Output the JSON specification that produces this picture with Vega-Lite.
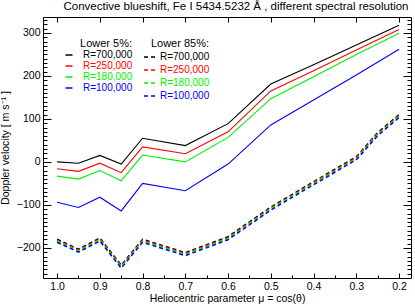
{
  "$schema": "https://vega.github.io/schema/vega-lite/v6.json",
  "width": 368,
  "height": 261,
  "autosize": "none",
  "padding": {"left": 43, "top": 17, "right": 4, "bottom": 28},
  "background": "white",
  "config": {
    "view": {"stroke": "black", "strokeWidth": 1},
    "font": "Liberation Sans",
    "axis": {"domain": false, "grid": false, "labelFont": "Liberation Sans", "titleFont": "Liberation Sans", "labelColor": "black", "titleColor": "black", "tickColor": "black", "labelFontSize": 10.5, "titleFontSize": 10.5, "titleFontWeight": "normal"},
    "legend": {"labelFont": "Liberation Sans", "titleFont": "Liberation Sans"}
  },
  "title": {"text": "Convective blueshift, Fe I 5434.5232 Å , different spectral resolution", "fontSize": 11.5, "fontWeight": "normal", "font": "Liberation Sans", "color": "black", "offset": 4, "dx": 9},
  "datasets": {
    "solid": [
      {"mu": 1.0, "v": 0, "R": "R=700,000"}, {"mu": 0.95, "v": -3, "R": "R=700,000"}, {"mu": 0.9, "v": 15, "R": "R=700,000"}, {"mu": 0.85, "v": -5, "R": "R=700,000"}, {"mu": 0.8, "v": 55, "R": "R=700,000"}, {"mu": 0.7, "v": 38, "R": "R=700,000"}, {"mu": 0.6, "v": 89, "R": "R=700,000"}, {"mu": 0.5, "v": 181, "R": "R=700,000"}, {"mu": 0.4, "v": 226, "R": "R=700,000"}, {"mu": 0.3, "v": 272, "R": "R=700,000"}, {"mu": 0.2, "v": 318, "R": "R=700,000"},
      {"mu": 1.0, "v": -16, "R": "R=250,000"}, {"mu": 0.95, "v": -22, "R": "R=250,000"}, {"mu": 0.9, "v": -3, "R": "R=250,000"}, {"mu": 0.85, "v": -25, "R": "R=250,000"}, {"mu": 0.8, "v": 35, "R": "R=250,000"}, {"mu": 0.7, "v": 19, "R": "R=250,000"}, {"mu": 0.6, "v": 70, "R": "R=250,000"}, {"mu": 0.5, "v": 165, "R": "R=250,000"}, {"mu": 0.4, "v": 212, "R": "R=250,000"}, {"mu": 0.3, "v": 260, "R": "R=250,000"}, {"mu": 0.2, "v": 308, "R": "R=250,000"},
      {"mu": 1.0, "v": -33, "R": "R=180,000"}, {"mu": 0.95, "v": -40, "R": "R=180,000"}, {"mu": 0.9, "v": -20, "R": "R=180,000"}, {"mu": 0.85, "v": -44, "R": "R=180,000"}, {"mu": 0.8, "v": 16, "R": "R=180,000"}, {"mu": 0.7, "v": 0, "R": "R=180,000"}, {"mu": 0.6, "v": 57, "R": "R=180,000"}, {"mu": 0.5, "v": 147, "R": "R=180,000"}, {"mu": 0.4, "v": 198, "R": "R=180,000"}, {"mu": 0.3, "v": 250, "R": "R=180,000"}, {"mu": 0.2, "v": 299, "R": "R=180,000"},
      {"mu": 1.0, "v": -94, "R": "R=100,000"}, {"mu": 0.95, "v": -106, "R": "R=100,000"}, {"mu": 0.9, "v": -82, "R": "R=100,000"}, {"mu": 0.85, "v": -114, "R": "R=100,000"}, {"mu": 0.8, "v": -50, "R": "R=100,000"}, {"mu": 0.7, "v": -67, "R": "R=100,000"}, {"mu": 0.6, "v": -5, "R": "R=100,000"}, {"mu": 0.5, "v": 86, "R": "R=100,000"}, {"mu": 0.4, "v": 144, "R": "R=100,000"}, {"mu": 0.3, "v": 202, "R": "R=100,000"}, {"mu": 0.2, "v": 262, "R": "R=100,000"}
    ],
    "dashed": [
      {"mu": 1.0, "v": -180, "R": "R=700,000"}, {"mu": 0.95, "v": -203, "R": "R=700,000"}, {"mu": 0.9, "v": -177, "R": "R=700,000"}, {"mu": 0.85, "v": -240, "R": "R=700,000"}, {"mu": 0.8, "v": -180, "R": "R=700,000"}, {"mu": 0.7, "v": -211, "R": "R=700,000"}, {"mu": 0.6, "v": -174, "R": "R=700,000"}, {"mu": 0.5, "v": -105, "R": "R=700,000"}, {"mu": 0.4, "v": -46, "R": "R=700,000"}, {"mu": 0.3, "v": 12, "R": "R=700,000"}, {"mu": 0.25, "v": 68, "R": "R=700,000"}, {"mu": 0.2, "v": 110, "R": "R=700,000"},
      {"mu": 1.0, "v": -182, "R": "R=250,000"}, {"mu": 0.95, "v": -205, "R": "R=250,000"}, {"mu": 0.9, "v": -179, "R": "R=250,000"}, {"mu": 0.85, "v": -242, "R": "R=250,000"}, {"mu": 0.8, "v": -182, "R": "R=250,000"}, {"mu": 0.7, "v": -213, "R": "R=250,000"}, {"mu": 0.6, "v": -176, "R": "R=250,000"}, {"mu": 0.5, "v": -107, "R": "R=250,000"}, {"mu": 0.4, "v": -48, "R": "R=250,000"}, {"mu": 0.3, "v": 10, "R": "R=250,000"}, {"mu": 0.25, "v": 66, "R": "R=250,000"}, {"mu": 0.2, "v": 108, "R": "R=250,000"},
      {"mu": 1.0, "v": -184, "R": "R=180,000"}, {"mu": 0.95, "v": -207, "R": "R=180,000"}, {"mu": 0.9, "v": -181, "R": "R=180,000"}, {"mu": 0.85, "v": -244, "R": "R=180,000"}, {"mu": 0.8, "v": -184, "R": "R=180,000"}, {"mu": 0.7, "v": -215, "R": "R=180,000"}, {"mu": 0.6, "v": -178, "R": "R=180,000"}, {"mu": 0.5, "v": -109, "R": "R=180,000"}, {"mu": 0.4, "v": -50, "R": "R=180,000"}, {"mu": 0.3, "v": 8, "R": "R=180,000"}, {"mu": 0.25, "v": 64, "R": "R=180,000"}, {"mu": 0.2, "v": 106, "R": "R=180,000"},
      {"mu": 1.0, "v": -187, "R": "R=100,000"}, {"mu": 0.95, "v": -210, "R": "R=100,000"}, {"mu": 0.9, "v": -184, "R": "R=100,000"}, {"mu": 0.85, "v": -247, "R": "R=100,000"}, {"mu": 0.8, "v": -187, "R": "R=100,000"}, {"mu": 0.7, "v": -218, "R": "R=100,000"}, {"mu": 0.6, "v": -181, "R": "R=100,000"}, {"mu": 0.5, "v": -112, "R": "R=100,000"}, {"mu": 0.4, "v": -53, "R": "R=100,000"}, {"mu": 0.3, "v": 5, "R": "R=100,000"}, {"mu": 0.25, "v": 61, "R": "R=100,000"}, {"mu": 0.2, "v": 103, "R": "R=100,000"}
    ]
  },
  "resolve": {"scale": {"color": "independent"}, "axis": {"x": "independent", "y": "independent"}, "legend": {"color": "independent"}},
  "layer": [
    {
      "mark": {"type": "rule", "strokeDash": [1, 3], "color": "black", "strokeWidth": 1},
      "encoding": {
        "y": {"datum": 0, "type": "quantitative", "scale": {"domain": [-270, 337], "nice": false, "zero": false},
          "axis": {"orient": "left", "values": [-260,-250,-240,-230,-220,-210,-200,-190,-180,-170,-160,-150,-140,-130,-120,-110,-100,-90,-80,-70,-60,-50,-40,-30,-20,-10,0,10,20,30,40,50,60,70,80,90,100,110,120,130,140,150,160,170,180,190,200,210,220,230,240,250,260,270,280,290,300,310,320,330],
            "tickSize": {"condition": {"test": "datum.value % 100 === 0", "value": -8}, "value": -4},
            "labelExpr": "datum.value % 100 === 0 ? replace(format(datum.value, 'd'), '-', '\u2212') : ''",
            "labelPadding": 11, "title": "Doppler velocity [ m s\u207b\u00b9 ]", "titlePadding": 6}}
      }
    },
    {
      "data": {"name": "solid"},
      "mark": {"type": "line", "strokeWidth": 1.1},
      "encoding": {
        "x": {"field": "mu", "type": "quantitative", "scale": {"domain": [0.172, 1.033], "reverse": true, "nice": false, "zero": false},
          "axis": {"orient": "bottom", "values": [1.0, 0.95, 0.9, 0.85, 0.8, 0.75, 0.7, 0.65, 0.6, 0.55, 0.5, 0.45, 0.4, 0.35, 0.3, 0.25, 0.2],
            "tickSize": {"condition": {"test": "abs(datum.value * 10 - round(datum.value * 10)) < 0.001", "value": -5}, "value": -3},
            "labelExpr": "abs(datum.value * 10 - round(datum.value * 10)) < 0.001 ? format(datum.value, '.1f') : ''",
            "labelPadding": 8, "title": "Heliocentric parameter \u03bc = cos(\u03b8)", "titlePadding": 2}},
        "y": {"field": "v", "type": "quantitative", "axis": null},
        "color": {"field": "R", "type": "nominal", "sort": null,
          "scale": {"domain": ["R=700,000", "R=250,000", "R=180,000", "R=100,000"], "range": ["#000000", "#ff0000", "#00f000", "#0000ff"]},
          "legend": {"title": "Lower 5%:", "orient": "none", "legendX": 21, "legendY": 21, "padding": 0, "symbolType": "stroke", "symbolSize": 49, "symbolStrokeWidth": 1.5, "labelOffset": 9, "labelFontSize": 10, "titleFontSize": 11, "titleFontWeight": "normal", "titleColor": "black", "titleAnchor": "end", "titleAlign": "right", "titlePadding": 1, "rowPadding": 1,
            "labelColor": {"expr": "datum.value == 'R=250,000' ? '#ff0000' : datum.value == 'R=180,000' ? '#00f000' : datum.value == 'R=100,000' ? '#0000ff' : '#000000'"}}},
        "detail": {"field": "R"}
      }
    },
    {
      "data": {"name": "dashed"},
      "mark": {"type": "line", "strokeWidth": 1.5, "strokeDash": [4, 3]},
      "encoding": {
        "x": {"field": "mu", "type": "quantitative", "axis": null},
        "y": {"field": "v", "type": "quantitative", "axis": null},
        "color": {"field": "R", "type": "nominal", "sort": null,
          "scale": {"domain": ["R=700,000", "R=250,000", "R=180,000", "R=100,000"], "range": ["#000000", "#ff0000", "#00f000", "#0000ff"]},
          "legend": {"title": "Lower 85%:", "orient": "none", "legendX": 100, "legendY": 21, "padding": 0, "symbolType": "stroke", "symbolSize": 144, "symbolStrokeWidth": 1.5, "symbolDash": [4, 3], "labelOffset": 3, "labelFontSize": 10, "titleFontSize": 11, "titleFontWeight": "normal", "titleColor": "black", "titleAnchor": "end", "titleAlign": "right", "titlePadding": 1, "rowPadding": 1,
            "labelColor": {"expr": "datum.value == 'R=250,000' ? '#ff0000' : datum.value == 'R=180,000' ? '#00f000' : datum.value == 'R=100,000' ? '#0000ff' : '#000000'"}}}
      }
    },
    {
      "data": {"name": "solid"},
      "mark": {"type": "point", "opacity": 0},
      "encoding": {
        "x": {"field": "mu", "type": "quantitative",
          "axis": {"orient": "top", "values": [1.0, 0.9, 0.8, 0.7, 0.6, 0.5, 0.4, 0.3, 0.2], "tickSize": -5, "labels": false, "title": null}},
        "y": {"field": "v", "type": "quantitative",
          "axis": {"orient": "right", "values": [-260,-250,-240,-230,-220,-210,-200,-190,-180,-170,-160,-150,-140,-130,-120,-110,-100,-90,-80,-70,-60,-50,-40,-30,-20,-10,0,10,20,30,40,50,60,70,80,90,100,110,120,130,140,150,160,170,180,190,200,210,220,230,240,250,260,270,280,290,300,310,320,330],
            "tickSize": {"condition": {"test": "datum.value % 100 === 0", "value": -8}, "value": -4}, "labels": false, "title": null}}
      }
    }
  ]
}
